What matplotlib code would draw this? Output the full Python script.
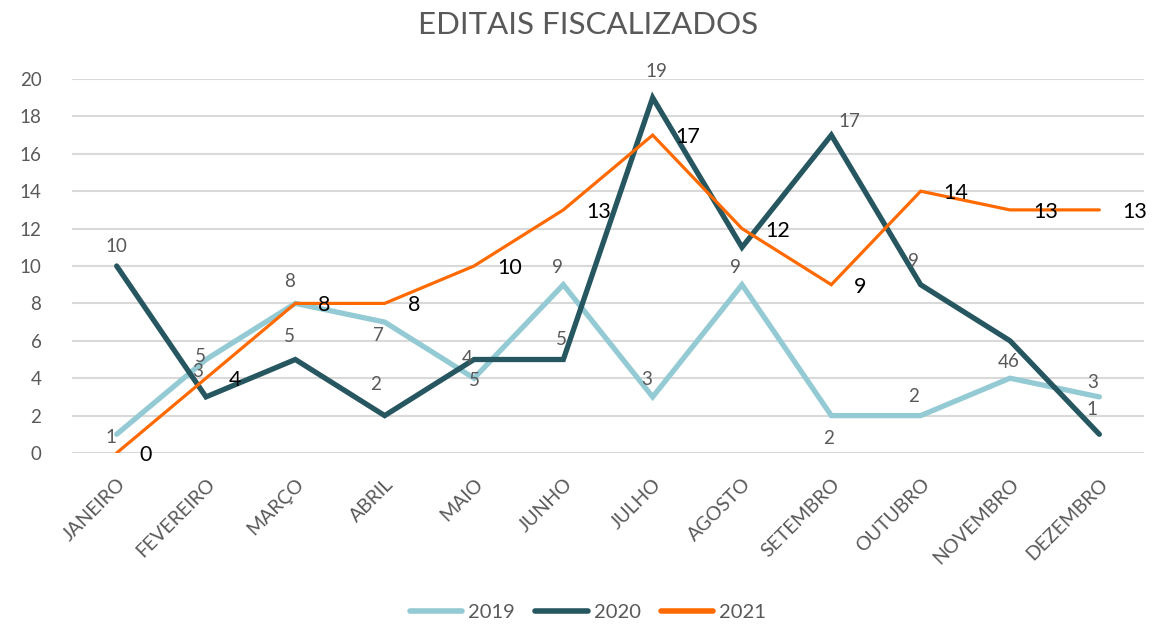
import matplotlib
matplotlib.use("Agg")
import matplotlib.pyplot as plt

# ---- data ----
months = ["JANEIRO", "FEVEREIRO", "MARÇO", "ABRIL", "MAIO", "JUNHO",
          "JULHO", "AGOSTO", "SETEMBRO", "OUTUBRO", "NOVEMBRO", "DEZEMBRO"]
v2019 = [1, 5, 8, 7, 4, 9, 3, 9, 2, 2, 4, 3]
v2020 = [10, 3, 5, 2, 5, 5, 19, 11, 17, 9, 6, 1]
v2021 = [0, 4, 8, 8, 10, 13, 17, 12, 9, 14, 13, 13]
# data-label texts as shown in the chart
lab2019 = ["1", "5", "8", "7", "5", "9", "3", "9", "2", "2", "4", "3"]
lab2020 = ["10", "3", "5", "2", "4", "5", "19", "", "17", "9", "6", "1"]
lab2021 = [str(v) for v in v2021]
yticks = list(range(0, 21, 2))
title = "EDITAIS FISCALIZADOS"

# ---- style ----
plt.rcParams["font.family"] = ["Lato", "DejaVu Sans"]
C19, C20, C21 = "#93CAD4", "#265760", "#FF6A00"
GRAY = "#595959"

# label offsets in pixels (dx, dy; dy positive = up), styling only
off19 = [(-6, -3), (-6, 3), (-6, 22), (-6, -13), (0, -2), (-6, 17),
         (-6, 17), (-7, 17), (-3, -23), (-7, 19), (-7, 16), (-7, 14)]
off20 = [(0, 19), (-8, 25), (-6, 23), (-9, 31), (-7, 1), (-2, 20),
         (4, 26), (0, 0), (18, 14), (-7, 23), (3, -21), (-7, 25)]

fig = plt.figure(figsize=(11.76, 6.24), dpi=100)
ax = fig.add_axes([72 / 1176, 1 - 453 / 624, (1144 - 72) / 1176, (453 - 79) / 624])
x = list(range(len(months)))

ax.plot(x, v2019, color=C19, lw=3.8, solid_capstyle="round", solid_joinstyle="miter", label="2019", zorder=3)
ax.plot(x, v2020, color=C20, lw=3.8, solid_capstyle="round", solid_joinstyle="miter", label="2020", zorder=4)
ax.plot(x, v2021, color=C21, lw=2.3, solid_capstyle="round", solid_joinstyle="miter", label="2021", zorder=5)

px = 0.72  # points per pixel at 100 dpi
for i in x:
    dx, dy = off19[i]
    ax.annotate(lab2019[i], (i, v2019[i]), xytext=(dx * px, dy * px), textcoords="offset points",
                ha="center", va="center", fontsize=13.5, color=GRAY, zorder=6)
    if lab2020[i]:
        dx, dy = off20[i]
        ax.annotate(lab2020[i], (i, v2020[i]), xytext=(dx * px, dy * px), textcoords="offset points",
                    ha="center", va="center", fontsize=13.5, color=GRAY, zorder=6)
    ax.annotate(lab2021[i], (i, v2021[i]), xytext=(23 * px, -2 * px), textcoords="offset points",
                ha="left", va="center", fontsize=15.5, color="black", zorder=7)

ax.set_xlim(-0.5, 11.5)
ax.set_ylim(0, 20)
ax.set_yticks(yticks)
ax.set_xticks(x)
ax.set_xticklabels(months, rotation=45, ha="right", rotation_mode="anchor")
ax.tick_params(axis="both", length=0, labelsize=13.5, labelcolor=GRAY)
ax.tick_params(axis="x", labelsize=14)
ax.tick_params(axis="y", pad=22)
ax.tick_params(axis="x", pad=16)
ax.grid(axis="y", color="#D9D9D9", lw=1.5)
ax.set_axisbelow(True)
for s in ax.spines.values():
    s.set_visible(False)

fig.text(0.5, 1 - 25 / 624, title, ha="center", va="center", fontsize=22.5, color=GRAY)
fig.legend(loc="center", bbox_to_anchor=(0.5, 1 - 612 / 624), ncol=3, frameon=False,
           fontsize=14.5, labelcolor=GRAY, handlelength=2.6, columnspacing=1.0, handletextpad=0.3)
for line in fig.legends[0].get_lines():
    line.set_linewidth(4)

fig.savefig("out.png", dpi=100, facecolor="white")
